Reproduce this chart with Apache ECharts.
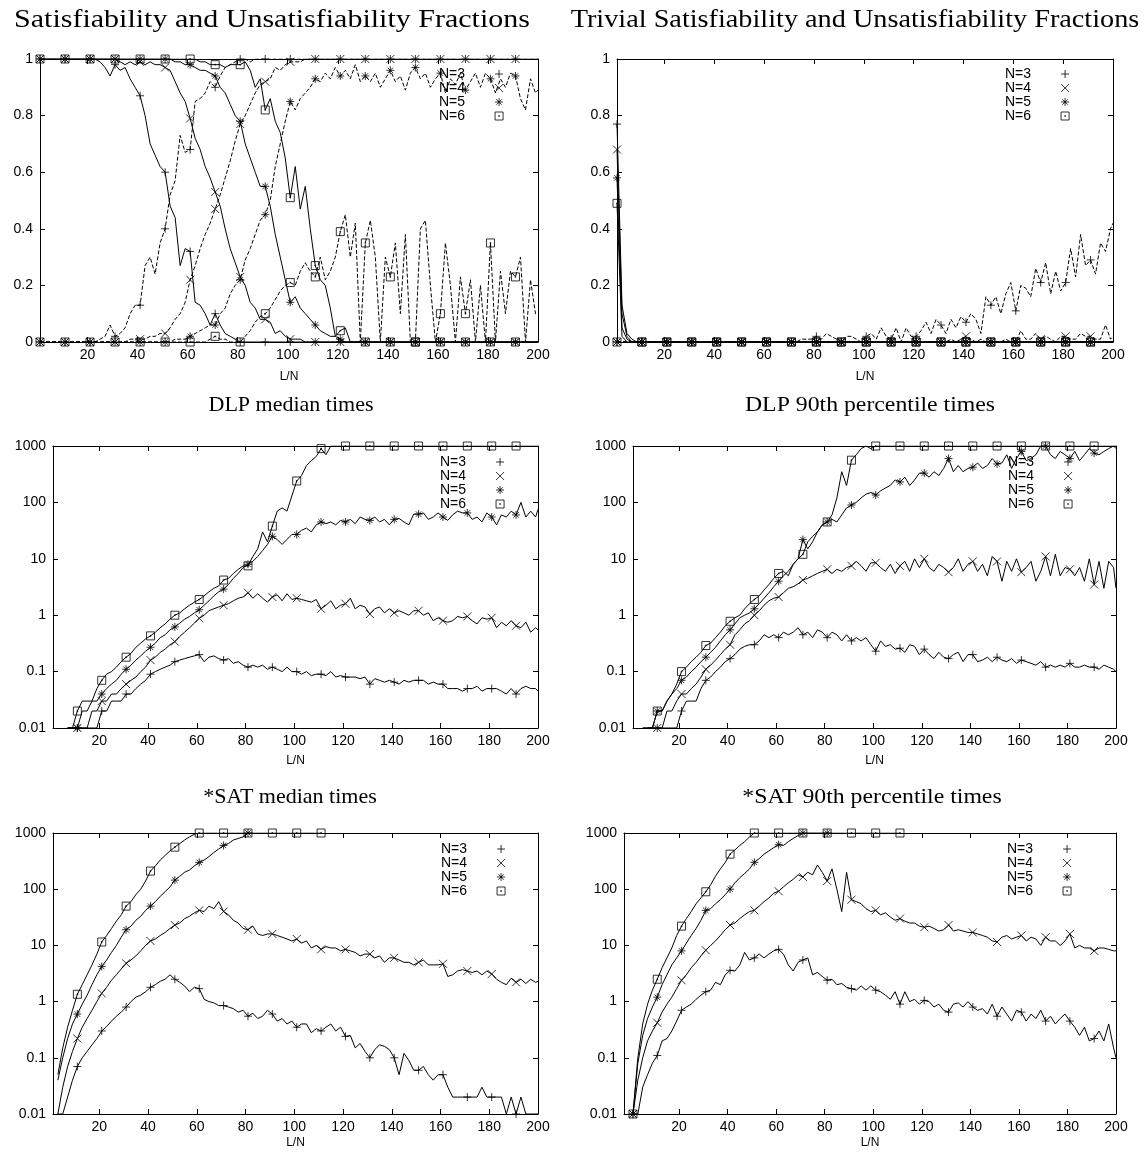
<!DOCTYPE html>
<html><head><meta charset="utf-8">
<script src="https://cdn.jsdelivr.net/npm/echarts@6/dist/echarts.min.js"></script>
<style>html,body{margin:0;padding:0;background:#fff}#c{width:1146px;height:1158px}</style>
</head><body><div id="c"></div>
<script>
// L/N sample positions (odd values 1..199, then 200)
const LN = [
1,3,5,7,9,11,13,15,17,19,
21,23,25,27,29,31,33,35,37,39,
41,43,45,47,49,51,53,55,57,59,
61,63,65,67,69,71,73,75,77,79,
81,83,85,87,89,91,93,95,97,99,
101,103,105,107,109,111,113,115,117,119,
121,123,125,127,129,131,133,135,137,139,
141,143,145,147,149,151,153,155,157,159,
161,163,165,167,169,171,173,175,177,179,
181,183,185,187,189,191,193,195,197,199,
200];
const X_TICKS = [20,40,60,80,100,120,140,160,180,200];
const NAMES = ['N=3','N=4','N=5','N=6'];

// ---- Panel 1: satisfiable (solid) / unsatisfiable (dashed) fractions
const SAT3 = [
1,1,1,1,1,1,1,1,1,1,
1,1,0.99,0.97,0.94,0.98,0.96,0.97,0.93,0.9,
0.87,0.8,0.7,0.66,0.62,0.6,0.48,0.44,0.27,0.33,
0.32,0.14,0.13,0.1,0.06,0.1,0.06,0.03,0.02,0.01,
0,0,0,0,0,0,0,0,0,0,
0,0,0,0,0,0,0,0,0,0,
0,0,0,0,0,0,0,0,0,0,
0,0,0,0,0,0,0,0,0,0,
0,0,0,0,0,0,0,0,0,0,
0,0,0,0,0,0,0,0,0,0,
0];
const UNS3 = [
0,0,0,0,0,0,0,0,0,0,
0,0,0.01,0.02,0.06,0.02,0.03,0.05,0.1,0.13,
0.13,0.27,0.3,0.24,0.35,0.4,0.52,0.57,0.73,0.67,
0.68,0.85,0.86,0.88,0.92,0.9,0.94,0.97,0.98,0.99,
1,1,0.99,1,1,1,1,1,1,1,
1,1,1,1,1,1,1,1,1,1,
1,1,1,1,1,1,1,1,1,1,
1,1,1,1,1,1,1,1,1,1,
1,1,1,1,1,1,1,1,1,1,
1,1,1,1,1,1,1,1,1,1,
1];
const SAT4 = [
1,1,1,1,1,1,1,1,1,1,
1,1,1,1,1,1,0.99,0.98,0.99,0.98,
0.99,0.98,0.99,0.98,0.98,0.97,0.96,0.92,0.88,0.85,
0.79,0.72,0.68,0.62,0.58,0.53,0.48,0.4,0.33,0.28,
0.23,0.2,0.14,0.12,0.08,0.08,0.07,0.03,0.04,0.02,
0.01,0.01,0.01,0,0,0,0,0,0,0,
0,0,0,0,0,0,0,0,0,0,
0,0,0,0,0,0,0,0,0,0,
0,0,0,0,0,0,0,0,0,0,
0,0,0,0,0,0,0,0,0,0,
0];
const UNS4 = [
0,0,0,0,0,0,0,0,0,0,
0,0,0,0,0,0,0,0,0.01,0.01,
0.01,0.01,0.02,0.02,0.03,0.03,0.05,0.08,0.1,0.14,
0.22,0.27,0.33,0.38,0.42,0.47,0.52,0.58,0.64,0.71,
0.77,0.8,0.84,0.88,0.91,0.92,0.93,0.97,0.96,0.98,
0.99,0.99,0.99,1,1,1,1,1,1,1,
1,1,1,1,1,1,1,1,1,1,
1,1,1,1,1,1,1,1,1,1,
1,1,1,1,1,1,1,1,1,1,
1,1,1,1,1,1,1,1,1,1,
1];
const SAT5 = [
1,1,1,1,1,1,1,1,1,1,
1,1,1,1,1,1,1,1,1,1,
1,1,1,1,1,1,1,0.99,0.99,0.98,
0.98,0.97,0.96,0.96,0.95,0.94,0.9,0.88,0.84,0.8,
0.78,0.7,0.65,0.6,0.55,0.55,0.48,0.38,0.3,0.22,
0.14,0.16,0.12,0.1,0.08,0.06,0.04,0.03,0.02,0.02,
0.01,0,0,0,0,0,0,0,0,0,
0,0,0,0,0,0,0,0,0,0,
0,0,0,0,0,0,0,0,0,0,
0,0,0,0,0,0,0,0,0,0,
0];
const UNS5 = [
0,0,0,0,0,0,0,0,0,0,
0,0,0,0,0,0,0,0,0,0,
0,0,0,0,0,0,0,0.01,0.01,0.01,
0.02,0.03,0.04,0.05,0.06,0.06,0.1,0.12,0.17,0.2,
0.22,0.29,0.33,0.38,0.43,0.45,0.5,0.62,0.7,0.78,
0.85,0.82,0.86,0.88,0.9,0.93,0.92,0.95,0.93,0.97,
0.94,0.96,0.93,0.98,0.92,0.94,0.92,0.95,0.9,0.93,
0.96,0.92,0.94,0.89,0.95,0.97,0.93,0.95,0.9,0.93,
0.95,0.88,0.93,0.91,0.95,0.89,0.92,0.95,0.9,0.95,
0.93,0.88,0.93,0.9,0.95,0.94,0.86,0.82,0.93,0.88,
0.89];
const SAT6 = [
1,1,1,1,1,1,1,1,1,1,
1,1,1,1,1,1,1,1,1,1,
1,1,1,1,1,1,1,1,1,1,
1,1,0.99,0.99,0.98,0.98,0.98,0.97,0.98,0.98,
0.98,0.99,0.96,0.9,0.93,0.82,0.86,0.78,0.74,0.65,
0.51,0.62,0.47,0.55,0.4,0.27,0.22,0.2,0.12,0.02,
0.04,0.05,0,0,0,0,0,0,0,0,
0,0,0,0,0,0,0,0,0,0,
0,0,0,0,0,0,0,0,0,0,
0,0,0,0,0,0,0,0,0,0,
0];
const UNS6 = [
0,0,0,0,0,0,0,0,0,0,
0,0,0,0,0,0,0,0,0,0,
0,0,0,0,0,0,0,0,0,0,
0,0,0,0,0.01,0.02,0.01,0.01,0,0,
0,0.02,0.04,0.07,0.09,0.1,0.12,0.15,0.18,0.2,
0.21,0.2,0.25,0.28,0.25,0.23,0.3,0.22,0.25,0.3,
0.39,0.45,0.3,0.42,0,0.35,0.43,0.3,0,0.3,
0.23,0.35,0.1,0.38,0,0,0.4,0.43,0.2,0,
0.1,0.35,0.2,0,0.23,0.1,0.22,0,0.2,0,
0.35,0,0.25,0.1,0.25,0.23,0.3,0,0.22,0.1,
0.1];

// ---- Panel 2: trivial satisfiable (solid) / trivial unsatisfiable (dashed)
const TSAT3 = [
0.77,0.13,0.03,0.01,0,0,0,0,0,0,
0,0,0,0,0,0,0,0,0,0, 0,0,0,0,0,0,0,0,0,0, 0,0,0,0,0,0,0,0,0,0,
0,0,0,0,0,0,0,0,0,0, 0,0,0,0,0,0,0,0,0,0, 0,0,0,0,0,0,0,0,0,0,
0,0,0,0,0,0,0,0,0,0, 0,0,0,0,0,0,0,0,0,0, 0,0,0,0,0,0,0,0,0,0,
0];
const TSAT4 = [
0.68,0.1,0.02,0,0,0,0,0,0,0,
0,0,0,0,0,0,0,0,0,0, 0,0,0,0,0,0,0,0,0,0, 0,0,0,0,0,0,0,0,0,0,
0,0,0,0,0,0,0,0,0,0, 0,0,0,0,0,0,0,0,0,0, 0,0,0,0,0,0,0,0,0,0,
0,0,0,0,0,0,0,0,0,0, 0,0,0,0,0,0,0,0,0,0, 0,0,0,0,0,0,0,0,0,0,
0];
const TSAT5 = [
0.58,0.05,0.01,0,0,0,0,0,0,0,
0,0,0,0,0,0,0,0,0,0, 0,0,0,0,0,0,0,0,0,0, 0,0,0,0,0,0,0,0,0,0,
0,0,0,0,0,0,0,0,0,0, 0,0,0,0,0,0,0,0,0,0, 0,0,0,0,0,0,0,0,0,0,
0,0,0,0,0,0,0,0,0,0, 0,0,0,0,0,0,0,0,0,0, 0,0,0,0,0,0,0,0,0,0,
0];
const TSAT6 = [
0.49,0.02,0,0,0,0,0,0,0,0,
0,0,0,0,0,0,0,0,0,0, 0,0,0,0,0,0,0,0,0,0, 0,0,0,0,0,0,0,0,0,0,
0,0,0,0,0,0,0,0,0,0, 0,0,0,0,0,0,0,0,0,0, 0,0,0,0,0,0,0,0,0,0,
0,0,0,0,0,0,0,0,0,0, 0,0,0,0,0,0,0,0,0,0, 0,0,0,0,0,0,0,0,0,0,
0];
const TUNS3 = [
0,0,0,0,0,0,0,0,0,0,
0,0,0,0,0,0,0,0,0,0,
0,0,0,0,0,0,0,0,0,0,
0,0,0,0,0,0,0,0.01,0.01,0.01,
0.02,0.01,0.03,0.02,0.01,0,0.02,0.02,0.01,0,
0.02,0.03,0.01,0.05,0.02,0.01,0.05,0,0.05,0.02,
0.02,0.04,0.07,0.03,0.08,0.06,0.03,0.08,0.05,0.09,
0.07,0.1,0.08,0.03,0.16,0.13,0.16,0.1,0.17,0.21,
0.11,0.2,0.19,0.16,0.26,0.21,0.28,0.17,0.25,0.18,
0.21,0.33,0.23,0.38,0.27,0.29,0.24,0.35,0.32,0.4,
0.42];
const TUNS4 = [
0,0,0,0,0,0,0,0,0,0,
0,0,0,0,0,0,0,0,0,0,
0,0,0,0,0,0,0,0,0,0,
0,0,0,0,0,0,0,0,0,0,
0,0,0,0,0,0,0,0,0,0,
0,0,0,0,0,0,0,0,0,0,
0,0,0,0,0,0,0,0.01,0,0.01,
0.02,0.01,0,0.01,0,0,0,0,0.01,0,
0,0.04,0.01,0.01,0.03,0.01,0.02,0.01,0,0.02,
0.02,0.01,0.01,0.03,0.02,0.02,0.01,0.01,0.06,0.01,
0.02];
const TUNS5 = [
0,0,0,0,0,0,0,0,0,0, 0,0,0,0,0,0,0,0,0,0, 0,0,0,0,0,0,0,0,0,0,
0,0,0,0,0,0,0,0,0,0, 0,0,0,0,0,0,0,0,0,0, 0,0,0,0,0,0,0,0,0,0,
0,0,0,0,0,0,0,0,0,0, 0,0,0,0,0,0,0,0,0,0, 0,0,0,0,0,0,0,0,0,0,
0,0,0,0,0,0,0,0,0,0,
0];
const TUNS6 = [
0,0,0,0,0,0,0,0,0,0, 0,0,0,0,0,0,0,0,0,0, 0,0,0,0,0,0,0,0,0,0,
0,0,0,0,0,0,0,0,0,0, 0,0,0,0,0,0,0,0,0,0, 0,0,0,0,0,0,0,0,0,0,
0,0,0,0,0,0,0,0,0,0, 0,0,0,0,0,0,0,0,0,0, 0,0,0,0,0,0,0,0,0,0,
0,0,0,0,0,0,0,0,0,0,
0];

// ---- Panel 3: DLP median times
const DLPMED3 = [
null,null,null,0.01,0.01,0.01,0.01,0.01,0.01,0.01,
0.02,0.02,0.03,0.03,0.03,0.04,0.04,0.05,0.06,0.07,
0.09,0.1,0.11,0.12,0.13,0.15,0.16,0.17,0.18,0.19,
0.2,0.15,0.18,0.19,0.17,0.16,0.17,0.14,0.15,0.13,
0.12,0.13,0.12,0.13,0.11,0.12,0.11,0.1,0.12,0.1,
0.1,0.09,0.1,0.085,0.09,0.09,0.085,0.1,0.08,0.085,
0.08,0.08,0.08,0.075,0.08,0.06,0.075,0.07,0.065,0.07,
0.065,0.06,0.07,0.065,0.07,0.07,0.07,0.06,0.065,0.06,
0.06,0.05,0.05,0.05,0.045,0.05,0.05,0.055,0.045,0.05,
0.05,0.05,0.045,0.04,0.05,0.04,0.05,0.055,0.05,0.05,
0.045];
const DLPMED4 = [
null,null,null,0.01,0.01,0.01,0.01,0.01,0.02,0.02,
0.03,0.03,0.04,0.04,0.05,0.06,0.07,0.08,0.1,0.12,
0.16,0.18,0.22,0.25,0.3,0.34,0.42,0.5,0.6,0.72,
0.88,1.0,1.2,1.3,1.4,1.5,1.6,1.8,2.0,2.1,
2.5,2.0,2.4,2.0,1.7,2.1,2.3,1.8,2.4,1.9,
2.0,1.9,1.8,1.7,1.9,1.3,1.5,1.8,1.3,1.5,
1.6,2.0,1.3,1.5,1.4,1.05,1.3,1.4,1.1,1.3,
1.1,1.2,1.1,1.0,1.2,1.2,1.0,1.1,0.8,0.9,
0.8,0.75,0.8,0.95,0.9,0.95,0.8,0.7,0.9,0.85,
0.9,0.6,0.75,0.65,0.8,0.65,0.6,0.75,0.5,0.6,
0.55];
const DLPMED5 = [
null,null,null,0.01,0.01,0.01,0.02,0.02,0.03,0.03,
0.04,0.05,0.06,0.07,0.09,0.11,0.13,0.16,0.19,0.23,
0.27,0.32,0.4,0.45,0.55,0.62,0.72,0.85,0.95,1.1,
1.25,1.5,1.8,2.2,2.6,2.9,3.5,4.5,5.5,7,
8,9,11,14,18,25,22,18,22,27,
27,32,35,30,40,45,42,45,40,48,
45,50,42,55,50,48,55,45,50,40,
50,52,45,40,62,62,65,50,55,65,
55,48,60,70,65,65,50,55,45,65,
55,40,60,55,70,60,100,55,70,55,
75];
const DLPMED6 = [
null,null,null,0.01,0.01,0.02,0.03,0.03,0.03,0.05,
0.07,0.09,0.1,0.12,0.15,0.18,0.21,0.27,0.32,0.38,
0.43,0.5,0.6,0.7,0.85,1.0,1.1,1.3,1.5,1.7,
1.9,2.2,2.6,3.0,3.3,4.2,4.5,5.5,6.5,7.5,
7.5,11,15,30,20,38,70,80,70,130,
240,300,450,550,650,900,700,1000,1000,1000,
1000,1000,1000,1000,1000,1000,1000,1000,1000,1000,
1000,1000,1000,1000,1000,1000,1000,1000,1000,1000,
1000,1000,1000,1000,1000,1000,1000,1000,1000,1000,
1000,1000,1000,1000,1000,1000,1000,1000,1000,1000,
1000];

// ---- Panel 4: DLP 90th percentile times
const DLP90_3 = [
null,null,0.01,0.01,0.01,0.01,0.01,0.01,0.01,0.01,
0.02,0.03,0.03,0.03,0.05,0.07,0.08,0.1,0.12,0.15,
0.17,0.2,0.25,0.28,0.3,0.3,0.35,0.45,0.4,0.45,
0.4,0.5,0.45,0.5,0.6,0.45,0.5,0.4,0.55,0.5,
0.4,0.5,0.45,0.35,0.45,0.35,0.4,0.35,0.4,0.3,
0.23,0.35,0.28,0.3,0.25,0.26,0.22,0.3,0.28,0.2,
0.25,0.2,0.17,0.22,0.18,0.17,0.2,0.22,0.15,0.2,
0.2,0.15,0.16,0.18,0.15,0.18,0.16,0.15,0.17,0.14,
0.16,0.15,0.14,0.13,0.15,0.12,0.13,0.12,0.13,0.12,
0.14,0.12,0.12,0.13,0.12,0.12,0.11,0.13,0.12,0.11,
0.1];
const DLP90_4 = [
null,null,0.01,0.01,0.01,0.01,0.01,0.02,0.02,0.03,
0.04,0.04,0.05,0.06,0.08,0.11,0.13,0.16,0.2,0.25,
0.3,0.45,0.55,0.7,0.8,1.0,1.2,1.5,1.8,2.0,
2.1,2.5,3.0,3.2,3.6,4.2,4.5,5,5.5,6,
6.5,5.5,6.5,6,7,7.5,9,7.5,6,8.5,
8.5,7,6,8,5.5,7.5,9,6,10,7,
10,7,6,8,7,5.8,7,10,6,8,
9,6,8,5,11,9,4,9,6,10,
5.8,7,9,4,6,11,5,12,5,7,
6.5,5,7,4,10,3.5,9,3,9,7,
3];
const DLP90_5 = [
null,null,null,0.01,0.01,0.02,0.02,0.03,0.04,0.05,
0.07,0.08,0.1,0.12,0.15,0.18,0.22,0.27,0.35,0.45,
0.55,0.7,0.9,1.0,1.1,1.3,1.6,2,2.5,3.2,
4,5,6,8,10,22,15,20,30,40,
45,50,45,60,80,90,100,120,140,150,
135,160,180,200,250,230,280,200,250,330,
330,280,350,300,400,600,350,450,350,400,
420,500,400,450,600,480,500,700,400,600,
800,550,600,700,1000,1000,700,600,800,700,
600,800,550,700,900,750,700,800,900,1000,
900];
const DLP90_6 = [
null,null,null,0.01,0.01,0.02,0.02,0.03,0.04,0.06,
0.1,0.12,0.15,0.18,0.22,0.29,0.32,0.4,0.5,0.65,
0.78,0.9,1.0,1.3,1.6,1.9,2.2,2.8,3.5,4.5,
5.5,6,5,8,10,12,20,25,30,40,
45,60,120,350,200,560,700,900,1000,900,
1000,1000,1000,1000,1000,1000,1000,1000,1000,1000,
1000,1000,1000,1000,1000,1000,1000,1000,1000,1000,
1000,1000,1000,1000,1000,1000,1000,1000,1000,1000,
1000,1000,1000,1000,1000,1000,1000,1000,1000,1000,
1000,1000,1000,1000,1000,1000,1000,1000,1000,1000,
1000];

// ---- Panel 5: *SAT median times
const SATMED3 = [
null,0.01,0.01,0.02,0.04,0.07,0.1,0.13,0.17,0.22,
0.3,0.36,0.45,0.55,0.65,0.8,1.0,1.2,1.3,1.5,
1.8,2.0,2.3,2.5,3.0,2.5,2.2,1.9,1.5,1.8,
1.7,1.1,1.0,0.95,0.85,0.85,0.8,0.75,0.65,0.7,
0.55,0.62,0.5,0.55,0.7,0.6,0.45,0.5,0.4,0.45,
0.35,0.4,0.4,0.28,0.33,0.3,0.35,0.4,0.3,0.35,
0.24,0.25,0.15,0.18,0.13,0.1,0.14,0.17,0.16,0.14,
0.1,0.05,0.12,0.09,0.06,0.06,0.07,0.05,0.04,0.05,
0.05,0.03,0.02,0.02,0.02,0.02,0.02,0.02,0.03,0.02,
0.02,0.02,0.02,0.01,0.02,0.01,0.02,0.01,0.01,0.01,
0.01];
const SATMED4 = [
null,0.01,0.03,0.07,0.13,0.22,0.35,0.5,0.7,1.0,
1.4,1.8,2.4,3,3.8,4.8,5.5,6.5,8,10,
12,13,15,17,20,23,25,30,33,38,
42,40,50,45,60,40,35,28,25,20,
19,22,16,15,16,16,15,14,13,12,
13,11,12,9,10,8.5,9.5,9,9,8,
8.5,8,7.5,6.5,7,7,6,6.5,5,6,
6,5.5,5,5,4.5,5,5.5,4.5,4.5,4.5,
4.7,2.8,3,3.5,3.7,3.5,3.3,3.5,3,3.5,
3.1,2.5,2.2,2,2.6,2.2,2.5,2.1,2.5,2.2,
2.3];
const SATMED5 = [
null,0.04,0.1,0.22,0.4,0.6,0.9,1.3,2,3,
4.2,5.5,7.5,10,14,19,22,28,33,42,
50,60,75,90,110,145,170,200,220,260,
300,330,380,450,520,600,650,750,800,850,
1000,1000,null,null,null,null,null,null,null,null,
null,null,null,null,null,null,null,null,null,null,
null,null,null,null,null,null,null,null,null,null,
null,null,null,null,null,null,null,null,null,null,
null,null,null,null,null,null,null,null,null,null,
null,null,null,null,null,null,null,null,null,null,
null];
const SATMED6 = [
null,0.05,0.15,0.35,0.7,1.35,2,3,4.5,7,
11.5,15,20,27,35,50,60,80,100,140,
210,260,330,400,480,560,650,750,850,950,
1000,1000,1000,1000,1000,1000,1000,1000,1000,1000,
1000,1000,1000,1000,1000,1000,1000,1000,1000,1000,
1000,1000,1000,1000,1000,1000,null,null,null,null,
null,null,null,null,null,null,null,null,null,null,
null,null,null,null,null,null,null,null,null,null,
null,null,null,null,null,null,null,null,null,null,
null,null,null,null,null,null,null,null,null,null,
null];

// ---- Panel 6: *SAT 90th percentile times
const SAT90_3 = [
0.01,0.01,0.03,0.05,0.08,0.11,0.2,0.22,0.3,0.45,
0.7,0.8,0.9,1.1,1.3,1.5,1.6,2.2,2.0,3.0,
3.6,3.5,4.5,7.5,5.5,6,7,6,7,8,
8.5,7,4.5,3.5,5,5.5,6,3,3.3,2.8,
2.4,2.5,2.0,2.1,1.8,1.7,1.6,1.9,1.6,1.9,
1.6,1.5,1.3,1.1,1.5,0.9,1.5,1.0,1.1,0.9,
1.05,1.0,0.8,0.9,0.7,0.65,0.9,0.95,0.8,1.0,
0.8,0.7,0.75,0.6,0.9,0.55,0.8,0.6,0.45,0.7,
0.65,0.45,0.6,0.5,0.7,0.45,0.55,0.4,0.5,0.6,
0.45,0.35,0.25,0.35,0.2,0.22,0.3,0.2,0.4,0.15,
0.1];
const SAT90_4 = [
0.01,0.04,0.1,0.2,0.3,0.42,0.65,0.9,1.2,1.7,
2.4,3,4,5,6.5,8.2,10,12,15,19,
23,25,30,35,40,42,50,60,70,85,
92,110,130,150,180,165,200,180,270,200,
140,230,100,40,200,65,60,55,45,40,
42,35,38,32,28,30,27,25,25,22,
21,22,20,18,19,23,18,19,18,17,
17,16,15,14,12,11.5,14,15,13,14,
15,12,14,13,10,14,12,12,10,12,
16,9,10,9,9,8,9,9,8.5,8,
8];
const SAT90_5 = [
0.01,0.08,0.25,0.5,0.8,1.2,2,3,4.5,6,
8,11,15,20,28,42,45,55,65,80,
100,130,160,190,230,300,350,420,480,550,
620,600,700,800,900,1000,1000,1000,1000,1000,
1000,1000,null,null,null,null,null,null,null,null,
null,null,null,null,null,null,null,null,null,null,
null,null,null,null,null,null,null,null,null,null,
null,null,null,null,null,null,null,null,null,null,
null,null,null,null,null,null,null,null,null,null,
null,null,null,null,null,null,null,null,null,null,
null];
const SAT90_6 = [
0.01,0.1,0.4,0.9,1.6,2.5,4,6,9,15,
22,30,40,55,70,90,120,170,230,300,
420,500,600,700,850,1000,1000,1000,1000,1000,
1000,1000,1000,1000,1000,1000,1000,1000,1000,1000,
1000,1000,1000,1000,1000,1000,1000,1000,1000,1000,
1000,1000,1000,1000,1000,1000,null,null,null,null,
null,null,null,null,null,null,null,null,null,null,
null,null,null,null,null,null,null,null,null,null,
null,null,null,null,null,null,null,null,null,null,
null,null,null,null,null,null,null,null,null,null,
null];

// ---------------- layout / styles ----------------
const SANS = '"Liberation Sans", Arial, Helvetica, sans-serif';
const SERIF = '"Liberation Serif", "Times New Roman", serif';
const SYM = [
  'path://M5,0L5,10M0,5L10,5',
  'path://M0,0L10,10M10,0L0,10',
  'path://M5,0L5,10M0,5L10,5M1.6,1.6L8.4,8.4M8.4,1.6L1.6,8.4',
  'path://M0,0L10,0L10,10L0,10ZM4.5,4.5L5.5,4.5L5.5,5.5L4.5,5.5Z'
];

const panels = [
  {title:'Satisfiability and Unsatisfiability Fractions', tx:272, ty:20, tsize:25, tscale:1.2,
   grid:{left:40, top:59, width:498, height:283}, xmin:1, log:false, nameGap:29,
   legend:{left:434, top:62},
   solid:[SAT3,SAT4,SAT5,SAT6], dashed:[UNS3,UNS4,UNS5,UNS6]},
  {title:'Trivial Satisfiability and Unsatisfiability Fractions', tx:855, ty:20, tsize:25, tscale:1.13,
   grid:{left:617, top:59, width:496, height:283}, xmin:1, log:false, nameGap:29,
   legend:{left:1000, top:62},
   solid:[TSAT3,TSAT4,TSAT5,TSAT6], dashed:[TUNS3,TUNS4,TUNS5,TUNS6]},
  {title:'DLP median times', tx:291, ty:405, tsize:22, tscale:1,
   grid:{left:53, top:446, width:485, height:282}, xmin:1, log:true, nameGap:27,
   legend:{left:435, top:450},
   solid:[DLPMED3,DLPMED4,DLPMED5,DLPMED6], dashed:[]},
  {title:'DLP 90th percentile times', tx:870, ty:405, tsize:22, tscale:1.08,
   grid:{left:633, top:446, width:483, height:282}, xmin:1, log:true, nameGap:27,
   legend:{left:1003, top:450},
   solid:[DLP90_3,DLP90_4,DLP90_5,DLP90_6], dashed:[]},
  {title:'*SAT median times', tx:290, ty:797, tsize:22, tscale:1,
   grid:{left:53, top:833, width:485, height:281}, xmin:1, log:true, nameGap:23,
   legend:{left:436, top:837},
   solid:[SATMED3,SATMED4,SATMED5,SATMED6], dashed:[]},
  {title:'*SAT 90th percentile times', tx:872, ty:797, tsize:22, tscale:1.08,
   grid:{left:624, top:833, width:492, height:281}, xmin:-2.7, log:true, nameGap:23,
   legend:{left:1002, top:837},
   solid:[SAT90_3,SAT90_4,SAT90_5,SAT90_6], dashed:[]}
];

panels.forEach(p => [...p.solid, ...p.dashed].forEach(a => {
  if (a.length !== LN.length) throw new Error('bad series length ' + a.length + ' in ' + p.title);
}));

const lineCol = '#000';
const plainNum = v => String(+Number(v).toPrecision(6));
const grids = [], xAxes = [], yAxes = [], series = [], legends = [], graphics = [];

panels.forEach((p, pi) => {
  grids.push(Object.assign({show:false, outerBoundsMode:'none', containLabel:false}, p.grid));
  const axLine = {show:true, onZero:false, lineStyle:{color:lineCol, width:1}};
  const lbl = {color:'#000', fontFamily:SANS, fontSize:14};
  const xBase = {type:'value', gridIndex:pi, min:p.xmin, max:200, splitLine:{show:false}, axisLine:axLine};
  xAxes.push(Object.assign({}, xBase, {
    position:'bottom',
    axisTick:{show:true, inside:true, length:5, customValues:X_TICKS, lineStyle:{color:lineCol}},
    axisLabel:Object.assign({show:true, margin:6, customValues:X_TICKS, formatter:plainNum}, lbl),
    name:'L/N', nameLocation:'middle', nameGap:p.nameGap,
    nameTextStyle:{color:'#000', fontFamily:SANS, fontSize:12}
  }));
  xAxes.push(Object.assign({}, xBase, {
    position:'top',
    axisTick:{show:true, inside:true, length:5, customValues:X_TICKS, lineStyle:{color:lineCol}},
    axisLabel:{show:false}
  }));
  const yBase = p.log
    ? {type:'log', logBase:10, min:0.01, max:1000, gridIndex:pi}
    : {type:'value', min:0, max:1, interval:0.2, gridIndex:pi};
  Object.assign(yBase, {splitLine:{show:false}, axisLine:axLine,
    axisTick:{show:true, inside:true, length:5, lineStyle:{color:lineCol}}, minorTick:{show:false}});
  yAxes.push(Object.assign({}, yBase, {position:'left',
    axisLabel:Object.assign({show:true, margin:7, formatter:plainNum}, lbl)}));
  yAxes.push(Object.assign({}, yBase, {position:'right', axisLabel:{show:false}}));

  const addSet = (arrs, dashed) => arrs.forEach((ys, k) => {
    series.push({
      type:'line', name:'line' + pi + (dashed ? 'd' : 's') + k,
      xAxisIndex:2*pi, yAxisIndex:2*pi,
      data: LN.map((x, i) => [x, ys[i] == null ? '-' : ys[i]]),
      symbol:'none', showSymbol:false, silent:true, animation:false, z:2,
      lineStyle:{color:lineCol, width:1, type: dashed ? [4,2] : 'solid'},
      connectNulls:false
    });
    series.push({
      type:'scatter', name:NAMES[k],
      xAxisIndex:2*pi, yAxisIndex:2*pi,
      data: LN.map((x, i) => [x, ys[i]]).filter((d, i) => i % 5 === 0 && i < 100 && d[1] != null),
      symbol:SYM[k], symbolSize:8, silent:true, animation:false, z:3,
      itemStyle:{color:'rgba(0,0,0,0)', borderColor:lineCol, borderWidth:1}
    });
  });
  addSet(p.solid, false);
  addSet(p.dashed, true);

  legends.push({
    orient:'vertical', left:p.legend.left, top:p.legend.top, align:'right',
    itemWidth:8, itemHeight:8, itemGap:0, selectedMode:false,
    data: NAMES.map((n, k) => ({name:n, icon:SYM[k]})),
    itemStyle:{color:'rgba(0,0,0,0)', borderColor:lineCol, borderWidth:1},
    formatter: n => '{t|' + n + '}{s| }',
    textStyle:{color:'#000', fontFamily:SANS, fontSize:14, lineHeight:14,
      rich:{t:{fontFamily:SANS, fontSize:14, color:'#000'}, s:{width:25}}}
  });

  graphics.push({
    type:'text', x:p.tx, y:p.ty, scaleX:p.tscale, scaleY:1, silent:true,
    style:{text:p.title, font:p.tsize + 'px ' + SERIF, fill:'#000',
      align:'center', verticalAlign:'middle', textAlign:'center', textVerticalAlign:'middle'}
  });
});

const chart = echarts.init(document.getElementById('c'), null, {renderer:'canvas'});
chart.setOption({
  backgroundColor:'#fff',
  animation:false,
  grid:grids, xAxis:xAxes, yAxis:yAxes, series:series, legend:legends,
  graphic:graphics
});
</script>
</body></html>
